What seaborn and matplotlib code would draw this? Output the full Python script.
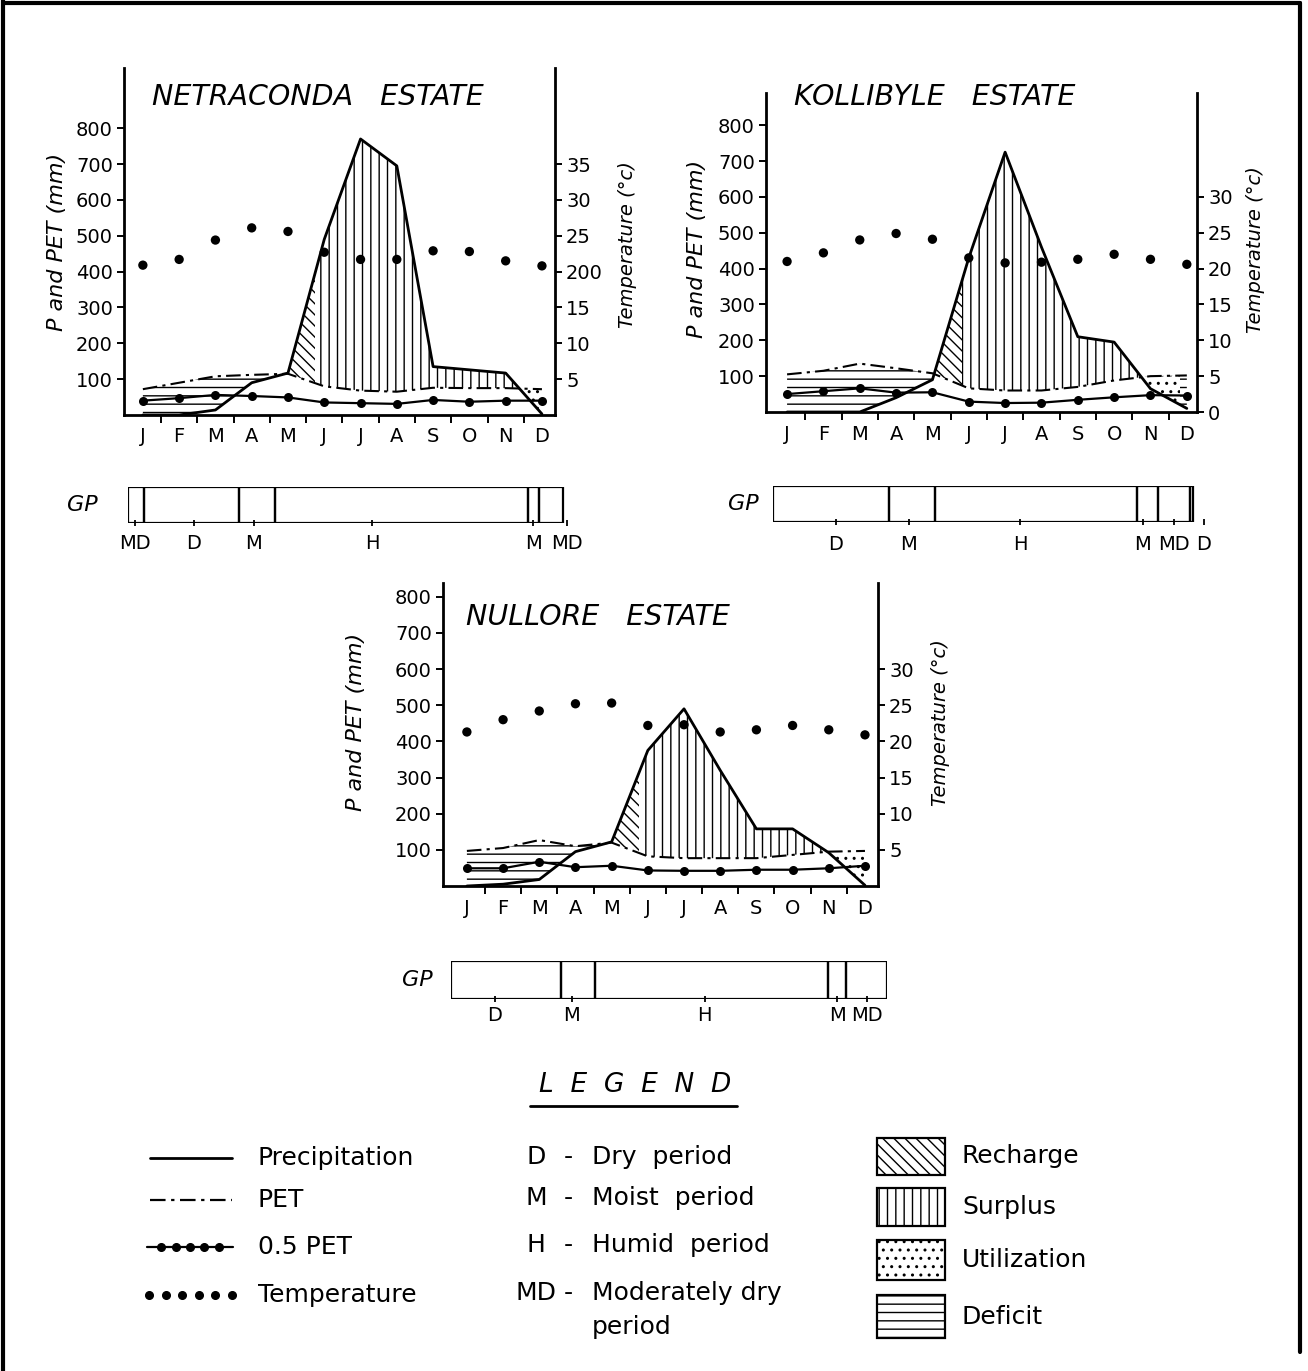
"""
Water balance diagrams (P, PET, 0.5 PET, temperature) for three estates
with growing-period (GP) bars and a hand-drawn style legend.
"""

import numpy as np
import seaborn as sns
import matplotlib.pyplot as plt
from matplotlib.patches import Rectangle

W, H = 1308, 1371

MONTHS = ["J", "F", "M", "A", "M", "J", "J", "A", "S", "O", "N", "D"]

# Netraconda estate (mm, temperature in deg C)
NET_PRECIP = [0, 0, 14, 90, 117, 490, 770, 695, 135, 126, 117, 3]
NET_PET = [72, 90, 108, 112, 115, 80, 68, 65, 76, 75, 75, 72]
NET_HALF_PET = [40, 47, 56, 53, 49, 35, 33, 31, 42, 37, 40, 40]
NET_TEMP = [20.9, 21.7, 24.4, 26.1, 25.6, 22.7, 21.7, 21.7, 22.9, 22.8, 21.5, 20.8]
NET_RECHARGE_END = 4.75
NET_UTIL_END = 11.0
NET_TEMP_TICKS = [5, 10, 15, 20, 25, 30, 35]
NET_TEMP_LABELS = ["5", "10", "15", "200", "25", "30", "35"]
NET_GP_BOUNDS = [0, 0.45, 3.05, 4.04, 11.03, 11.34, 12.0]
NET_GP_LABELS = ["MD", "D", "M", "H", "M", "MD"]
NET_GP_LABEL_POS = [0.18, 1.82, 3.47, 6.73, 11.17, 12.1]

# Kollibyle estate
KOL_PRECIP = [0, 0, 0, 40, 90, 430, 725, 460, 210, 195, 65, 10]
KOL_PET = [105, 115, 135, 122, 108, 66, 60, 60, 70, 88, 100, 102]
KOL_HALF_PET = [50, 58, 66, 54, 55, 29, 25, 26, 34, 41, 47, 46]
KOL_TEMP = [21.0, 22.2, 24.0, 24.9, 24.1, 21.5, 20.8, 20.9, 21.3, 22.0, 21.3, 20.6]
KOL_RECHARGE_END = 4.8
KOL_UTIL_END = 10.8
KOL_TEMP_TICKS = [0, 5, 10, 15, 20, 25, 30]
KOL_TEMP_LABELS = ["0", "5", "10", "15", "20", "25", "30"]
KOL_GP_BOUNDS = [0, 3.31, 4.63, 10.40, 11.0, 11.9, 12.0]
KOL_GP_LABELS = ["D", "M", "H", "M", "MD", "D"]
KOL_GP_LABEL_POS = [1.79, 3.87, 7.06, 10.55, 11.45, 12.3]

# Nullore estate
NUL_PRECIP = [0, 5, 18, 95, 122, 375, 490, 320, 158, 158, 92, 2]
NUL_PET = [97, 105, 127, 110, 120, 82, 77, 77, 77, 86, 95, 97]
NUL_HALF_PET = [49, 49, 67, 52, 56, 43, 42, 42, 45, 45, 49, 56]
NUL_TEMP = [21.3, 23.0, 24.2, 25.2, 25.3, 22.2, 22.3, 21.3, 21.6, 22.2, 21.6, 20.9]
NUL_RECHARGE_END = 4.75
NUL_UTIL_END = 11.0
NUL_TEMP_TICKS = [5, 10, 15, 20, 25, 30]
NUL_TEMP_LABELS = ["5", "10", "15", "20", "25", "30"]
NUL_GP_BOUNDS = [0, 3.04, 3.96, 10.38, 10.88, 12.0]
NUL_GP_LABELS = ["D", "M", "H", "M", "MD"]
NUL_GP_LABEL_POS = [1.21, 3.32, 6.98, 10.63, 11.44]

sns.set_theme(
    style="ticks",
    rc={
        "axes.edgecolor": "black",
        "xtick.color": "black",
        "ytick.color": "black",
        "text.color": "black",
        "axes.labelcolor": "black",
    },
)
plt.rcParams["font.family"] = ["DejaVu Sans"]
plt.rcParams["hatch.linewidth"] = 1.0

fig = plt.figure(figsize=(W / 100, H / 100), dpi=100)


def px_axes(left, top, right, bottom):
    return fig.add_axes([left / W, 1 - bottom / H, (right - left) / W, (bottom - top) / H])


# overlay for frame and legend (pixel coordinates, y down)
lg = px_axes(0, 0, W, H)
lg.set_xlim(0, W)
lg.set_ylim(H, 0)
lg.axis("off")
lg.plot([3, 3], [0, H], color="black", lw=3)
lg.plot([3, 1300], [3, 3], color="black", lw=3)
lg.plot([1300, 1300], [3, 1352], color="black", lw=3)


def panel(box, title, title_xy, precip, pet, half_pet, temp, recharge_end, util_end,
          xlim, ymax, t_ticks, t_labels, ylab_xy, tlab_xy):
    ax = px_axes(*box)
    x = np.arange(12)
    p = np.array(precip, dtype=float)
    e = np.array(pet, dtype=float)
    wet = p >= e

    def hatched(where, hatch, x0, x1):
        poly = ax.fill_between(x, e, p, where=where, interpolate=True,
                               facecolor="none", edgecolor="black", hatch=hatch, linewidth=0)
        poly.set_clip_path(Rectangle((x0, -50), x1 - x0, 3000, transform=ax.transData))

    hatched(wet, "\\\\\\", -1, recharge_end)
    hatched(wet, "||", recharge_end, 13)
    hatched(~wet, "--", -1, 7)
    hatched(~wet, "..", 7, util_end)
    hatched(~wet, "--", util_end, 13)

    sns.lineplot(x=x, y=p, ax=ax, color="black", lw=2.0)
    sns.lineplot(x=x, y=e, ax=ax, color="black", lw=1.5, linestyle=(0, (7, 2.5, 1.5, 2.5)))
    sns.lineplot(x=x, y=half_pet, ax=ax, color="black", lw=1.6, marker="o",
                 markersize=6.5, markeredgewidth=0)

    ax.set_xlim(*xlim)
    ax.set_ylim(0, ymax)
    ax.set_xticks(x)
    ax.set_xticklabels(MONTHS)
    ax.set_xticks(np.arange(11) + 0.5, minor=True)
    ax.set_yticks(range(100, 900, 100))
    ax.tick_params(axis="x", which="major", length=0, pad=9, labelsize=14)
    ax.tick_params(axis="x", which="minor", length=6, width=1.4, direction="out")
    ax.tick_params(axis="y", length=5, width=1.4, direction="out", pad=3, labelsize=14)
    for s in ("top", "right"):
        ax.spines[s].set_visible(False)
    for s in ("left", "bottom"):
        ax.spines[s].set_linewidth(2.0)
    ax.set_xlabel("")
    ax.set_ylabel("")

    axt = ax.twinx()
    sns.scatterplot(x=x, y=temp, ax=axt, color="black", s=45, edgecolor="none")
    axt.set_ylim(0, ymax / 20)
    axt.set_yticks(t_ticks)
    axt.set_yticklabels(t_labels)
    axt.tick_params(axis="y", right=True, length=5, width=1.4, direction="out", pad=3, labelsize=14)
    for s in ("top", "left", "bottom"):
        axt.spines[s].set_visible(False)
    axt.spines["right"].set_linewidth(2.0)
    axt.set_ylabel("")

    ax.text(*ylab_xy, "P and PET (mm)", transform=ax.transAxes, rotation=90,
            ha="center", va="center", fontsize=16, style="italic")
    ax.text(*tlab_xy, "Temperature (°c)", transform=ax.transAxes, rotation=90,
            ha="center", va="center", fontsize=14, style="italic")
    fig.text(title_xy[0] / W, 1 - title_xy[1] / H, title, ha="center", va="center",
             fontsize=20.5, style="italic")


def gp_bar(box, bounds, labels, label_pos, gp_xy, pad):
    ax = px_axes(*box)
    b = np.array(bounds)
    ax.barh(0, np.diff(b), left=b[:-1], height=1, color="none", edgecolor="black", linewidth=1.6)
    ax.set_xlim(0, 12)
    ax.set_ylim(-0.5, 0.5)
    ax.set_yticks([])
    ax.set_xticks(label_pos)
    ax.set_xticklabels(labels)
    ax.tick_params(axis="x", length=4, width=1.3, direction="inout", pad=pad, labelsize=14)
    for s in ax.spines.values():
        s.set_visible(False)
    fig.text(gp_xy[0] / W, 1 - gp_xy[1] / H, "GP", ha="center", va="center",
             fontsize=16, style="italic")


panel((124, 68, 555, 415), "NETRACONDA   ESTATE", (318, 97), NET_PRECIP, NET_PET, NET_HALF_PET,
      NET_TEMP, NET_RECHARGE_END, NET_UTIL_END, (-0.52, 11.36), 968,
      NET_TEMP_TICKS, NET_TEMP_LABELS, (-0.155, 0.50), (1.169, 0.49))
panel((766, 93, 1197, 412), "KOLLIBYLE   ESTATE", (935, 97), KOL_PRECIP, KOL_PET, KOL_HALF_PET,
      KOL_TEMP, KOL_RECHARGE_END, KOL_UTIL_END, (-0.58, 11.28), 890,
      KOL_TEMP_TICKS, KOL_TEMP_LABELS, (-0.16, 0.51), (1.135, 0.51))
panel((443, 583, 878, 886), "NULLORE   ESTATE", (598, 617), NUL_PRECIP, NUL_PET, NUL_HALF_PET,
      NUL_TEMP, NUL_RECHARGE_END, NUL_UTIL_END, (-0.66, 11.36), 838,
      NUL_TEMP_TICKS, NUL_TEMP_LABELS, (-0.2, 0.54), (1.143, 0.54))

gp_bar((128, 487, 567, 523), NET_GP_BOUNDS, NET_GP_LABELS, NET_GP_LABEL_POS, (82, 505), 6)
gp_bar((773, 486, 1204, 522), KOL_GP_BOUNDS, KOL_GP_LABELS, KOL_GP_LABEL_POS, (743, 504), 7)
gp_bar((451, 961, 887, 999), NUL_GP_BOUNDS, NUL_GP_LABELS, NUL_GP_LABEL_POS, (417, 980), 3)

# legend
lg.text(635, 1085, "L  E  G  E  N  D", ha="center", va="center", fontsize=19, style="italic")
lg.plot([530, 737], [1106, 1106], color="black", lw=2)

line_rows = [1158, 1200, 1247, 1295]
lg.plot([150, 232], [line_rows[0]] * 2, color="black", lw=2.0)
lg.plot([150, 232], [line_rows[1]] * 2, color="black", lw=1.6, linestyle=(0, (7, 2.5, 1.5, 2.5)))
lg.plot(np.linspace(147, 233, 7), [line_rows[2]] * 7, color="black", lw=1.6, marker="o",
        markersize=5.5, markevery=[1, 2, 3, 4, 5])
lg.plot(np.linspace(149, 232, 6), [line_rows[3]] * 6, color="black", lw=0, marker="o", markersize=5.5)
for y, t in zip(line_rows, ["Precipitation", "PET", "0.5 PET", "Temperature"]):
    lg.text(258, y, t, ha="left", va="center", fontsize=18)

codes = [("D", "Dry  period", 1157), ("M", "Moist  period", 1198),
         ("H", "Humid  period", 1245), ("MD", "Moderately dry", 1293)]
for c, t, y in codes:
    lg.text(536, y, c, ha="center", va="center", fontsize=18)
    lg.text(568, y, "-", ha="center", va="center", fontsize=18)
    lg.text(592, y, t, ha="left", va="center", fontsize=18)
lg.text(592, 1327, "period", ha="left", va="center", fontsize=18)

patches = [("\\\\\\", "Recharge", 1138, 1175), ("||", "Surplus", 1188, 1226),
           ("..", "Utilization", 1240, 1280), ("--", "Deficit", 1295, 1338)]
for hatch, t, y0, y1 in patches:
    lg.add_patch(Rectangle((877, y0), 68, y1 - y0, facecolor="none", edgecolor="black",
                           hatch=hatch, linewidth=1.6))
    lg.text(962, (y0 + y1) / 2, t, ha="left", va="center", fontsize=18)

fig.savefig("out.png", dpi=100)
